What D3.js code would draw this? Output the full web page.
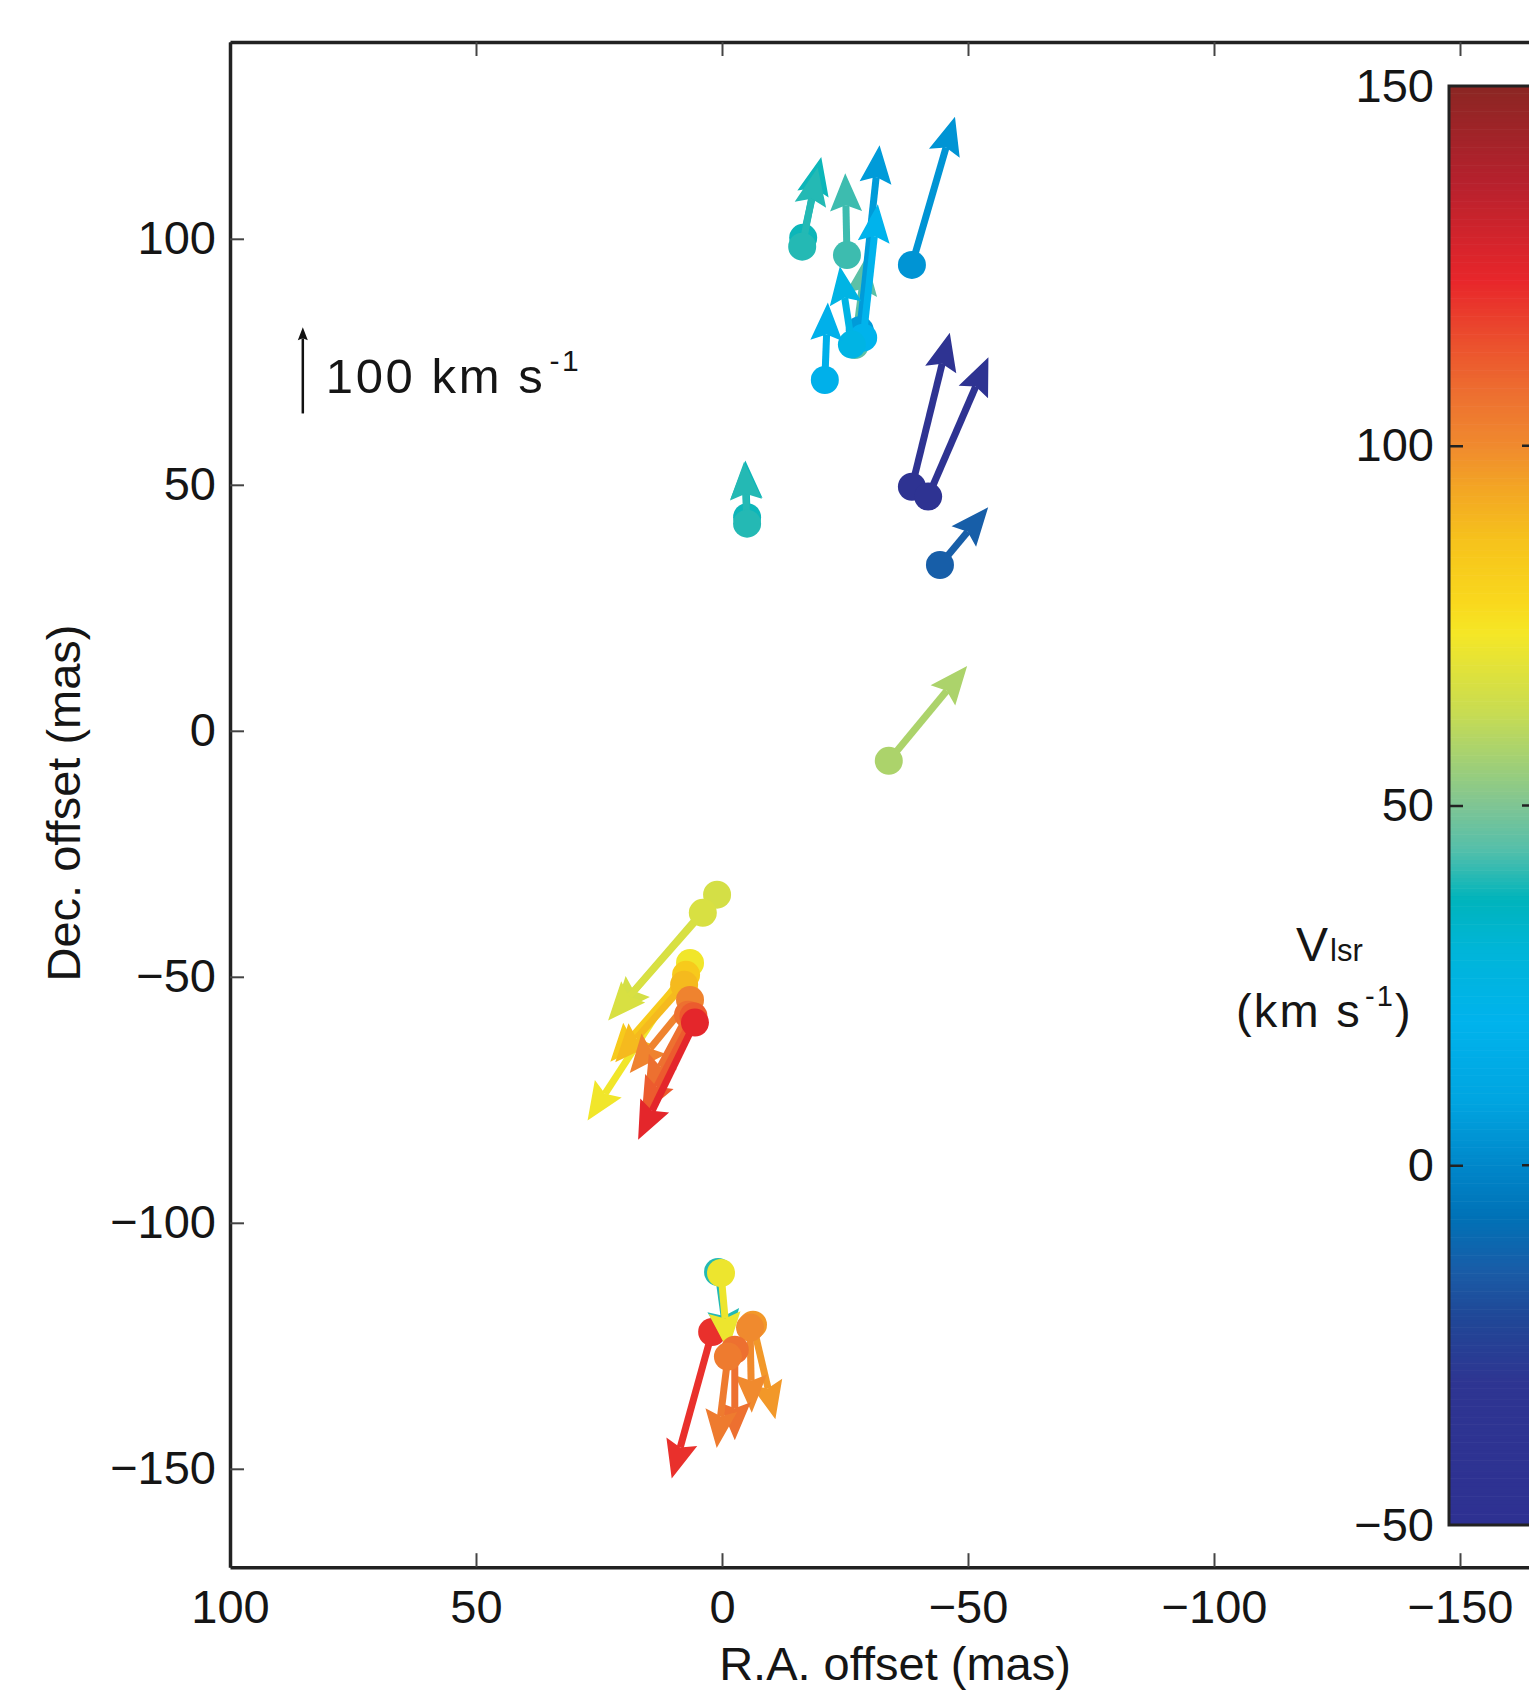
<!DOCTYPE html>
<html>
<head>
<meta charset="utf-8">
<script src="https://cdn.jsdelivr.net/npm/d3@7.9.0/dist/d3.min.js"></script>
<style>
  html, body { margin: 0; padding: 0; background: #fff; overflow: hidden; }
  svg text { font-family: "Liberation Sans", Arial, Helvetica, sans-serif; fill: #151515; }
</style>
</head>
<body>
<svg id="chart" width="1529" height="1693"></svg>
<script>
// --- data: maser spots (offset in mas, proper motion in km/s, +RA = east) ---
const spotRA   = [-27.0, -16.5, -16.3, -25.4, -28.0, -38.6, -28.7, -26.4, -20.9,
                  -38.6, -41.9, -44.3, -5.1, -5.1, -33.9,
                  1.0, 3.9, 6.5, 7.3, 7.7, 6.5, 6.9, 5.8, 5.5,
                  2.0, 0.8, 0.2, -6.3, -5.7, -2.6, -1.2];
const spotDec  = [78.4, 100.2, 98.4, 96.7, 81.4, 94.7, 79.9, 78.5, 71.3,
                  49.6, 47.6, 33.7, 43.4, 42.1, -6.1,
                  -33.3, -37.0, -47.2, -49.6, -51.6, -54.7, -57.7, -58.0, -59.3,
                  -122.2, -110.0, -110.2, -120.7, -121.3, -125.8, -127.2];
const spotVRA  = [-13, -21, -18, 2, -23, -50, -17, 14, -3.5,
                  -44, -70, -56, 2, 3.5, -91,
                  121, 110, 119, 88, 80, 70, 50, 60, 66,
                  47, -12, -8, -26, -2, 0, 13];
const spotVDec = [102, 94, 92, 95, 215, 172, 155, 91, 90,
                  179, 162, 67, 66, 72, 110,
                  -140, -125, -183, -101, -90, -85, -93, -115, -136,
                  -170, -88, -90, -110, -99, -105, -106];
const spotVlsr = [45, 38, 40, 42, 6, 4, 20, 24, 18,
                  -42, -42, -14, 38, 40, 58,
                  66, 67, 73, 84, 89, 102, 107, 112, 124,
                  121, 40, 72, 97, 100, 107, 104];

const raTicks   = [100, 50, 0, -50, -100, -150];
const decTicks  = [100, 50, 0, -50, -100, -150];
const vlsrTicks = [150, 100, 50, 0, -50];

// colour map of the Vlsr bar
const cmapValues = [-50, -30, -21, -15, -7, 0, 9, 20, 30, 37, 44, 50, 63, 74, 78, 87, 94, 100, 107, 112, 123, 137, 150];
const cmapColors = ['#2e3192', '#2e3592', '#204797', '#1a5ba6', '#0072b7', '#0087ca', '#00a5e1', '#00b3ec',
                    '#00b5d8', '#00b4bc', '#55bfaa', '#7fc594', '#c8dc52', '#f5e726', '#f9d91d', '#f6c21c',
                    '#f3a624', '#f08a2e', '#ed7030', '#ec5b2e', '#e8262b', '#b5212d', '#8b2623'];

const kmsToMas = 17.5 / 100;   // 100 km/s arrow length in mas
const scaleRA = 85.2, scaleDec = 64.5, scaleKms = 100;

// --- scales ---
const pxPerMas = 4.92;
const x = d3.scaleLinear().domain([100, -170]).range([230, 230 + 270 * pxPerMas]);
const y = d3.scaleLinear().domain([140, -170]).range([42, 42 + 310 * pxPerMas]);
const color = d3.scaleLinear().domain(cmapValues).range(cmapColors).interpolate(d3.interpolateRgb).clamp(true);
const cbY = d3.scaleLinear().domain([-50, 150]).range([1525, 86]);

const svg = d3.select('#chart');
svg.append('rect').attr('width', 1529).attr('height', 1693).attr('fill', '#fff');

const fs = 47;
const fmt = d => String(d).replace('-', '\u2212');

// --- axes ---
const axBottom = svg.append('g').attr('transform', `translate(0,${y(-170)})`)
  .call(d3.axisBottom(x).tickValues(raTicks).tickSizeInner(-14).tickSizeOuter(0).tickPadding(22).tickFormat(fmt));
const axTop = svg.append('g').attr('transform', `translate(0,${y(140)})`)
  .call(d3.axisTop(x).tickValues(raTicks).tickSizeInner(-14).tickSizeOuter(0).tickFormat(''));
const axLeft = svg.append('g').attr('transform', `translate(${x(100)},0)`)
  .call(d3.axisLeft(y).tickValues(decTicks).tickSizeInner(-14).tickSizeOuter(0).tickPadding(14).tickFormat(fmt));

[axBottom, axTop, axLeft].forEach(g => {
  g.select('.domain').attr('stroke', '#222').attr('stroke-width', 3.5);
  g.selectAll('.tick line').attr('stroke', '#444').attr('stroke-width', 2);
  g.selectAll('.tick text').attr('font-size', fs).style('fill', '#151515');
});

// axis titles
svg.append('text').attr('x', 895).attr('y', 1680).attr('text-anchor', 'middle')
  .attr('font-size', fs).text('R.A. offset (mas)');
svg.append('text').attr('transform', 'translate(80,803) rotate(-90)').attr('text-anchor', 'middle')
  .attr('font-size', fs).text('Dec. offset (mas)');

// --- arrows ---
function drawArrow(g, x0, y0, x1, y1, c, shaft, L, W, notch) {
  const dx = x1 - x0, dy = y1 - y0, len = Math.hypot(dx, dy);
  const ux = dx / len, uy = dy / len, px = -uy, py = ux;
  const bx = x1 - ux * (L - notch), by = y1 - uy * (L - notch);
  g.append('line').attr('x1', x0).attr('y1', y0).attr('x2', bx).attr('y2', by)
    .attr('stroke', c).attr('stroke-width', shaft);
  const hx = x1 - ux * L, hy = y1 - uy * L;
  g.append('path')
    .attr('d', `M${x1},${y1}L${hx + px * W},${hy + py * W}L${bx},${by}L${hx - px * W},${hy - py * W}Z`)
    .attr('fill', c);
}

const spots = svg.append('g');
spotRA.forEach((ra, i) => {
  const c = color(spotVlsr[i]);
  const g = spots.append('g');
  const x0 = x(ra), y0 = y(spotDec[i]);
  const x1 = x(ra + spotVRA[i] * kmsToMas), y1 = y(spotDec[i] + spotVDec[i] * kmsToMas);
  drawArrow(g, x0, y0, x1, y1, c, 7, 38, 16, 6);
  g.append('circle').attr('cx', x0).attr('cy', y0).attr('r', 14).attr('fill', c);
});

// scale bar
const sb = svg.append('g');
drawArrow(sb, x(scaleRA), y(scaleDec), x(scaleRA), y(scaleDec + scaleKms * kmsToMas), '#111', 2.5, 13, 5, 2);
const sbt = sb.append('text').attr('x', x(scaleRA) + 23).attr('y', y(scaleDec) - 20)
  .attr('font-size', 49).attr('letter-spacing', 2.6);
sbt.append('tspan').text('100 km s');
sbt.append('tspan').attr('font-size', 30).attr('dy', -22).attr('dx', 4).text('-1');

// --- colour bar ---
const cb = svg.append('g');
const cbX = 1449, cbW = 87;
cb.selectAll('rect.cell').data(d3.range(-50, 150, 0.5)).join('rect')
  .attr('class', 'cell')
  .attr('x', cbX).attr('width', cbW)
  .attr('y', d => cbY(d + 0.5)).attr('height', Math.abs(cbY(0) - cbY(0.5)) + 0.6)
  .attr('fill', d => color(d + 0.25));
cb.append('rect').attr('x', cbX).attr('y', cbY(150)).attr('width', cbW).attr('height', cbY(-50) - cbY(150))
  .attr('fill', 'none').attr('stroke', '#222').attr('stroke-width', 3);
const cbAxis = cb.append('g').attr('transform', `translate(${cbX},0)`)
  .call(d3.axisLeft(cbY).tickValues(vlsrTicks).tickSizeInner(-14).tickSizeOuter(0).tickPadding(15).tickFormat(fmt));
cbAxis.select('.domain').remove();
cbAxis.selectAll('.tick line').attr('stroke', '#222').attr('stroke-width', 2.5)
  .filter(d => d === 150 || d === -50).remove();
cbAxis.selectAll('.tick text').attr('font-size', fs).style('fill', '#151515');
cb.selectAll('line.rt').data(vlsrTicks.filter(d => d > -50 && d < 150)).join('line')
  .attr('class', 'rt')
  .attr('x1', cbX + cbW - 14).attr('x2', cbX + cbW).attr('y1', d => cbY(d)).attr('y2', d => cbY(d))
  .attr('stroke', '#222').attr('stroke-width', 2.5);

const vl = svg.append('text').attr('x', 1296).attr('y', 961).attr('font-size', 48);
vl.append('tspan').text('V');
vl.append('tspan').attr('font-size', 31).attr('dx', 2).text('lsr');
const un = svg.append('text').attr('x', 1236).attr('y', 1027).attr('font-size', 47).attr('letter-spacing', 2.2);
un.append('tspan').text('(km s');
un.append('tspan').attr('font-size', 29).attr('dy', -21).attr('dx', 3).text('-1');
un.append('tspan').attr('dy', 21).text(')');
</script>
</body>
</html>
